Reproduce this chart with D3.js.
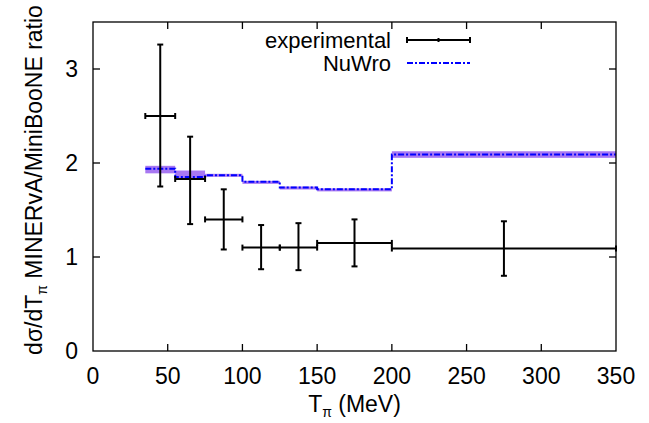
<!DOCTYPE html>
<html>
<head>
<meta charset="utf-8">
<script src="https://cdn.jsdelivr.net/npm/d3@7"></script>
<style>
  body { margin: 0; background: #fff; }
  svg { font-family: "Liberation Sans", Arial, sans-serif; }
</style>
</head>
<body>
<div id="chart"></div>
<script>
// bin edges in T_pi (MeV)
const binLo = [35, 55, 75, 100, 125, 150, 200];
const binHi = [55, 75, 100, 125, 150, 200, 350];
const binMid = [45, 65, 87.5, 112.5, 137.5, 175, 275];

// experimental ratio with error bars
const expVal = [2.50, 1.83, 1.40, 1.10, 1.10, 1.15, 1.09];
const expLo  = [1.75, 1.35, 1.08, 0.87, 0.86, 0.90, 0.80];
const expHi  = [3.26, 2.28, 1.72, 1.34, 1.36, 1.40, 1.38];

// NuWro prediction and its band
const nuVal  = [1.94, 1.85, 1.87, 1.80, 1.74, 1.72, 2.09];
const nuLo   = [1.89, 1.83, 1.855, 1.79, 1.73, 1.71, 2.055];
const nuHi   = [1.97, 1.92, 1.885, 1.81, 1.75, 1.73, 2.125];

const xTicks = [0, 50, 100, 150, 200, 250, 300, 350];
const yTicks = [0, 1, 2, 3];

const W = 649, H = 423;
const m = { left: 93, right: 33, top: 22, bottom: 72 };

const svg = d3.select("#chart").append("svg")
  .attr("width", W).attr("height", H);

const x = d3.scaleLinear().domain([0, 350]).range([m.left, W - m.right]);
const y = d3.scaleLinear().domain([0, 3.5]).range([H - m.bottom, m.top]);

const fs = 23, fsub = 14;
const dash = "6,2,2,2";

const bins = binLo.map((lo, i) => ({ lo: lo, hi: binHi[i], mid: binMid[i],
  v: expVal[i], el: expLo[i], eh: expHi[i], n: nuVal[i], nl: nuLo[i], nh: nuHi[i] }));

// NuWro band
svg.append("g").selectAll("rect")
  .data(bins).enter().append("rect")
  .attr("x", d => x(d.lo))
  .attr("width", d => x(d.hi) - x(d.lo))
  .attr("y", d => y(d.nh))
  .attr("height", d => Math.max(3, y(d.nl) - y(d.nh)))
  .attr("fill", "#a878f2");

// NuWro step line
let pts = [];
bins.forEach(d => { pts.push([d.lo, d.n]); pts.push([d.hi, d.n]); });
const line = d3.line().x(d => x(d[0])).y(d => y(d[1]));
svg.append("path")
  .attr("d", line(pts))
  .attr("fill", "none")
  .attr("stroke", "#0000ff")
  .attr("stroke-width", 2)
  .attr("stroke-dasharray", dash);

// experimental points
const cap = 3;
const ex = svg.append("g").attr("stroke", "#000").attr("stroke-width", 2);
bins.forEach(d => {
  ex.append("line").attr("x1", x(d.lo)).attr("x2", x(d.hi)).attr("y1", y(d.v)).attr("y2", y(d.v));
  ex.append("line").attr("x1", x(d.lo)).attr("x2", x(d.lo)).attr("y1", y(d.v) - cap).attr("y2", y(d.v) + cap);
  ex.append("line").attr("x1", x(d.hi)).attr("x2", x(d.hi)).attr("y1", y(d.v) - cap).attr("y2", y(d.v) + cap);
  ex.append("line").attr("x1", x(d.mid)).attr("x2", x(d.mid)).attr("y1", y(d.el)).attr("y2", y(d.eh));
  ex.append("line").attr("x1", x(d.mid) - cap).attr("x2", x(d.mid) + cap).attr("y1", y(d.el)).attr("y2", y(d.el));
  ex.append("line").attr("x1", x(d.mid) - cap).attr("x2", x(d.mid) + cap).attr("y1", y(d.eh)).attr("y2", y(d.eh));
});

// frame and ticks (mirrored, inward)
const tl = 7;
const axes = svg.append("g").attr("stroke", "#000").attr("stroke-width", 1.3);
axes.append("rect")
  .attr("x", m.left).attr("y", m.top)
  .attr("width", W - m.right - m.left).attr("height", H - m.bottom - m.top)
  .attr("fill", "none");
xTicks.slice(1, -1).forEach(t => {
  axes.append("line").attr("x1", x(t)).attr("x2", x(t)).attr("y1", y(0)).attr("y2", y(0) - tl);
  axes.append("line").attr("x1", x(t)).attr("x2", x(t)).attr("y1", y(3.5)).attr("y2", y(3.5) + tl);
});
yTicks.slice(1).forEach(t => {
  axes.append("line").attr("x1", x(0)).attr("x2", x(0) + tl).attr("y1", y(t)).attr("y2", y(t));
  axes.append("line").attr("x1", x(350)).attr("x2", x(350) - tl).attr("y1", y(t)).attr("y2", y(t));
});

// tick labels
svg.append("g").selectAll("text").data(xTicks).enter().append("text")
  .attr("x", d => x(d)).attr("y", 384)
  .attr("text-anchor", "middle").attr("font-size", fs)
  .text(d => d);
svg.append("g").selectAll("text").data(yTicks).enter().append("text")
  .attr("x", m.left - 15).attr("y", d => y(d) + 8)
  .attr("text-anchor", "end").attr("font-size", fs)
  .text(d => d);

// axis titles
const xt = svg.append("text")
  .attr("x", (x(0) + x(350)) / 2).attr("y", 412)
  .attr("text-anchor", "middle").attr("font-size", fs);
xt.append("tspan").text("T");
xt.append("tspan").attr("dy", 5).attr("font-size", fsub).text("π");
xt.append("tspan").attr("dy", -5).text(" (MeV)");

const yt = svg.append("text")
  .attr("transform", "translate(42,180) rotate(-90)")
  .attr("text-anchor", "middle").attr("font-size", fs);
yt.append("tspan").text("dσ/dT");
yt.append("tspan").attr("dy", 5).attr("font-size", fsub).text("π");
yt.append("tspan").attr("dy", -5).text(" MINERvA/MiniBooNE ratio");

// legend
const lx0 = 407, lx1 = 470;
svg.append("text").attr("x", 391).attr("y", 48).attr("text-anchor", "end")
  .attr("font-size", 22).text("experimental");
svg.append("text").attr("x", 391).attr("y", 71).attr("text-anchor", "end")
  .attr("font-size", 22).text("NuWro");
const lg = svg.append("g").attr("stroke", "#000").attr("stroke-width", 2);
lg.append("line").attr("x1", lx0).attr("x2", lx1).attr("y1", 40).attr("y2", 40);
lg.append("line").attr("x1", lx0).attr("x2", lx0).attr("y1", 37).attr("y2", 43);
lg.append("line").attr("x1", lx1).attr("x2", lx1).attr("y1", 37).attr("y2", 43);
lg.append("line").attr("x1", (lx0 + lx1) / 2).attr("x2", (lx0 + lx1) / 2).attr("y1", 38).attr("y2", 42);
svg.append("line").attr("x1", lx0).attr("x2", lx1).attr("y1", 63).attr("y2", 63)
  .attr("stroke", "#0000ff").attr("stroke-width", 2).attr("stroke-dasharray", dash);
</script>
</body>
</html>
